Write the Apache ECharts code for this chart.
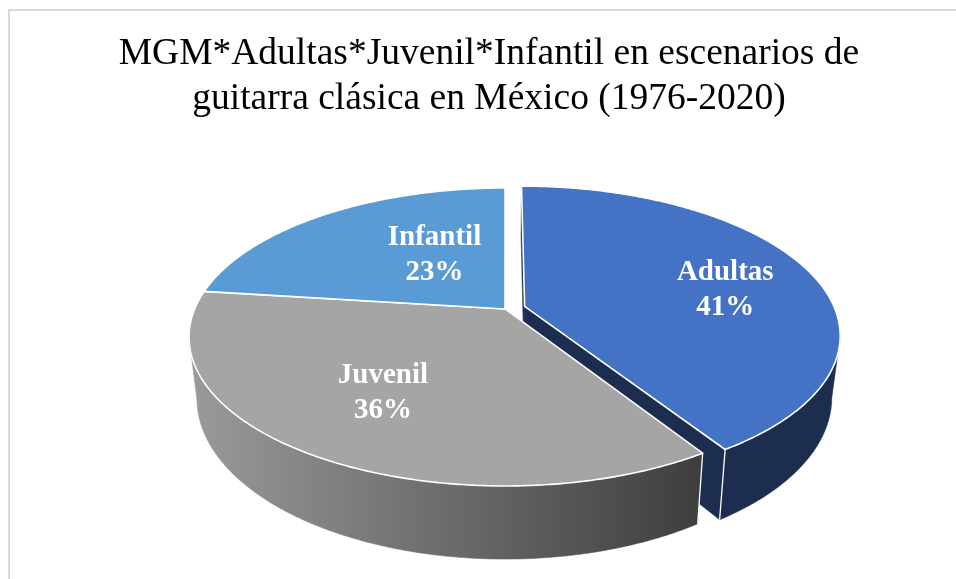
<!DOCTYPE html>
<html><head><meta charset="utf-8">
<script src="https://cdn.jsdelivr.net/npm/echarts@6/dist/echarts.min.js"></script>
<style>html,body{margin:0;padding:0;background:#fff}#c{width:956px;height:579px}</style>
</head><body><div id="c"></div>
<script>
// ---- data ----
const categories = ['Adultas', 'Juvenil', 'Infantil'];
const values = [41, 36, 23];
const titleLines = ['MGM*Adultas*Juvenil*Infantil en escenarios de', 'guitarra clásica en México (1976-2020)'];

// ---- style ----
const STYLE = {
  top: ['#4472C4', '#A5A5A5', '#5B9BD5'],
  side: ['#1c2d50',
    {type: 'linear', x: 190, y: 0, x2: 710, y2: 0, global: true,
     colorStops: [{offset: 0, color: '#9a9a9a'}, {offset: 1, color: '#3c3c3c'}]},
    '#2d5d8c'],
  explode: [0.066, 0, 0],
  labelPlace: [[0.675, 6.1], [0.637, 1.4], [0.469, 10.0]]
};
// perspective camera for the tilted pie
const CAM = {cx: 505, c0: -455.7, D: 5.32, F: 1651, A: 4068, T: 316, K: 0.975};
function proj(x, z, down) {
  const d = CAM.D + z;
  return [CAM.cx + CAM.F * (down ? CAM.K : 1) * x / d, CAM.c0 + (CAM.A + (down ? CAM.T : 0)) / d];
}
const total = values.reduce((a, b) => a + b, 0);
const RAD = Math.PI / 180;

function renderItem(params, api) {
  const i = params.dataIndex;
  const v = api.value(0);
  let cum = 0;
  for (let k = 0; k < i; k++) cum += values[k];
  const a0 = cum / total * 360, a1 = (cum + v) / total * 360;
  const mid = (a0 + a1) / 2;
  const e = STYLE.explode[i];
  const ox = e * Math.sin(mid * RAD), oz = e * Math.cos(mid * RAD);
  const pt = (a, r, down) => proj(ox + r * Math.sin(a * RAD), oz + r * Math.cos(a * RAD), down);
  const children = [];
  const n = Math.max(2, Math.ceil((a1 - a0) / 0.5));
  const arc = [];
  for (let k = 0; k <= n; k++) arc.push(a0 + (a1 - a0) * k / n);
  // top face
  const topPts = [proj(ox, oz, false)].concat(arc.map(a => pt(a, 1, false)));
  children.push({type: 'polygon', z2: 30, shape: {points: topPts},
    style: {fill: STYLE.top[i], stroke: '#ffffff', lineWidth: 1.6, lineJoin: 'round'}});
  // outer wall (front-facing part)
  const facing = a => 1 + ox * Math.sin(a * RAD) + (oz + CAM.D) * Math.cos(a * RAD) < 0;
  const fa = arc.filter(facing);
  if (fa.length >= 2) {
    const upper = fa.map(a => pt(a, 1, false));
    const lower = fa.map(a => pt(a, 1, true)).reverse();
    children.push({type: 'polygon', z2: 10, shape: {points: upper.concat(lower)},
      style: {fill: STYLE.side[i], stroke: STYLE.side[i], lineWidth: 0.5}});
    [a0, a1].forEach(a => {
      if (facing(a)) {
        const p = pt(a, 1, false), q = pt(a, 1, true);
        children.push({type: 'line', z2: 12, shape: {x1: p[0], y1: p[1], x2: q[0], y2: q[1]},
          style: {stroke: '#ffffff', lineWidth: 1.3}});
      }
    });
  }
  // radial walls
  [[a0, -1], [a1, 1]].forEach(([a, s]) => {
    const nx = s * Math.cos(a * RAD), nz = -s * Math.sin(a * RAD);
    const mx = ox + 0.5 * Math.sin(a * RAD), mz = oz + 0.5 * Math.cos(a * RAD);
    if (nx * mx + nz * (mz + CAM.D) < -1e-6) {
      const pts = [proj(ox, oz, false), pt(a, 1, false), pt(a, 1, true), proj(ox, oz, true)];
      children.push({type: 'polygon', z2: 5, shape: {points: pts},
        style: {fill: STYLE.side[i], stroke: STYLE.side[i], lineWidth: 0.5}});
    }
  });
  // label
  const lp = pt(mid + STYLE.labelPlace[i][1], STYLE.labelPlace[i][0], false);
  children.push({type: 'text', z2: 40, x: lp[0], y: lp[1],
    style: {text: categories[i] + '\n' + Math.round(v / total * 100) + '%',
      fill: '#ffffff', fontSize: 29, fontWeight: 'bold', fontFamily: '"Liberation Serif", "Times New Roman", serif',
      align: 'center', verticalAlign: 'middle', textAlign: 'center', textVerticalAlign: 'middle', lineHeight: 35}});
  return {type: 'group', children: children};
}

const chart = echarts.init(document.getElementById('c'), null, {renderer: 'canvas'});
chart.setOption({
  animation: false,
  backgroundColor: '#ffffff',
  graphic: [
    {type: 'rect', silent: true, z: -10,
      shape: {x: 9, y: 10, width: 1000, height: 700},
      style: {fill: 'none', stroke: '#d9d9d9', lineWidth: 2}},
    {type: 'text', silent: true, x: 489, y: 32,
      style: {text: titleLines.join('\n'), fill: '#000000',
        fontFamily: '"Liberation Serif", "Times New Roman", serif', fontSize: 37.5, fontWeight: 'normal',
        lineHeight: 45, align: 'center', verticalAlign: 'top', textAlign: 'center', textVerticalAlign: 'top'}}
  ],
  series: [{
    type: 'custom',
    coordinateSystem: 'none',
    renderItem: renderItem,
    data: values.map((v, i) => ({name: categories[i], value: v}))
  }]
});
</script>
</body></html>
